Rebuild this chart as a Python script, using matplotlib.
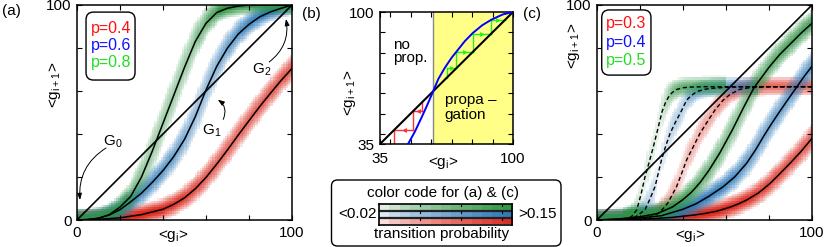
import numpy as np
import matplotlib
matplotlib.use('Agg')
import matplotlib.pyplot as plt
from matplotlib.colors import to_rgb
from matplotlib.patches import FancyBboxPatch
from matplotlib.transforms import IdentityTransform

plt.rcParams['font.family'] = ['Liberation Sans', 'DejaVu Sans']
plt.rcParams['font.size'] = 11
plt.rcParams['mathtext.fontset'] = 'custom'
plt.rcParams['mathtext.rm'] = 'Liberation Sans'
plt.rcParams['mathtext.it'] = 'Liberation Sans'
plt.rcParams['mathtext.default'] = 'regular'
plt.rcParams['axes.linewidth'] = 1.1

# text / line colours and heat map colours
TXT = {'red': '#ff1010', 'blue': '#1010ff', 'green': '#22dd22'}
HEAT = {'red': '#dc2a1e', 'blue': '#2a78b8', 'green': '#2e9444'}

# ---------------- panel (a): p = 0.4, 0.6, 0.8 ----------------
a_labels = ['p=0.4', 'p=0.6', 'p=0.8']
a_red_x = [0, 10, 20, 30, 40, 45, 50, 55, 60, 65, 70, 75, 80, 85, 90, 95, 100]
a_red_y = [0, 0.3, 1, 2.5, 5, 7.3, 10.3, 14.5, 19.8, 26, 32.6, 39.5, 46.2, 52.8, 59, 65, 70.5]
a_blue_x = [0, 5, 10, 15, 20, 25, 30, 35, 40, 45, 50, 55, 60, 65, 70, 75, 80, 85, 90, 95, 100]
a_blue_y = [0, 0.2, 0.8, 2.3, 4.8, 8.5, 12.5, 17.5, 23, 29.5, 37.5, 48, 60.5, 71.5, 80, 86.5, 91, 94.5, 96.8, 98.5, 100]
a_green_x = [0, 5, 10, 15, 20, 25, 30, 35, 40, 45, 50, 55, 60, 65, 70, 75, 80, 90, 100]
a_green_y = [0, 0.2, 0.8, 2.5, 6, 11, 20, 32, 45, 58, 71, 83, 91.5, 96.5, 98.5, 99.5, 100, 100, 100]

# ---------------- panel (b): map and cobweb ----------------
b_curve_x = [48.7, 52, 55.2, 58, 61, 63.5, 66.6, 70, 73.1, 76.5, 80.4, 85, 89.4, 95, 100]
b_curve_y = [35, 41, 47.8, 54, 61, 67, 72.4, 77.5, 81.4, 85.7, 89.7, 93.5, 96.2, 98.8, 100]
b_threshold = 61
b_green_steps = [67.7, 72.3, 80.4, 89.4, 95.9]
b_red_steps = [55.5, 51.2, 42, 30]

# ---------------- panel (c): p = 0.3, 0.4, 0.5 ----------------
c_labels = ['p=0.3', 'p=0.4', 'p=0.5']
c_red_x = [0, 20, 35, 45, 50, 55.7, 62, 66, 69.6, 75, 80.5, 85, 89.8, 95, 100]
c_red_y = [0, 0.3, 1.2, 2.3, 3.0, 4.1, 6, 7.6, 9.3, 12.5, 17, 21.5, 26.4, 32, 38]
c_blue_x = [0, 15, 30, 40, 46, 52, 58.7, 64, 69.6, 74, 77.4, 81, 85, 89, 93, 96.5, 100]
c_blue_y = [0, 0.5, 2, 5, 7.5, 11, 15.5, 20, 26.4, 33, 38.8, 44.5, 50.5, 56.3, 62, 67, 71.5]
c_green_x = [0, 10, 20, 28, 35, 40, 44, 48, 52, 57, 60, 63, 68, 73, 80, 85, 90, 95, 100]
c_green_y = [0, 0.5, 1.5, 3, 6, 9.5, 13, 17.5, 23, 31, 36.5, 42, 52, 61.5, 71, 77, 82, 87, 91.5]
# dashed branches
c_red_dx = [18, 24, 28.5, 31, 33, 37, 39.5, 41.7, 45, 47.9, 51.5, 54.9, 58.7, 62, 66.5, 70, 74, 80, 100]
c_red_dy = [0.3, 1, 3.1, 5.5, 8, 15.5, 22, 28, 34.5, 40.3, 46, 51.2, 55.8, 58.5, 60.8, 61.4, 61.7, 62, 62]
c_blue_dx = [14, 18, 22.3, 24.5, 27, 30, 32, 34, 36.5, 39.4, 41.7, 44, 46.4, 50, 54, 60, 70, 100]
c_blue_dy = [0.3, 1.5, 4.7, 9.5, 15.5, 28, 34.5, 40.3, 45.5, 51, 55.8, 58, 59.7, 60.8, 61.3, 61.7, 62, 62]
c_green_dx = [12, 16, 18.5, 20.5, 22.3, 24.3, 26.2, 28.2, 30.3, 32, 33.5, 35, 37, 40, 43, 50, 60, 100]
c_green_dy = [0.3, 1.5, 4.7, 12, 20, 27, 34, 42, 50.5, 55, 57.6, 59.3, 60.7, 61.5, 61.8, 62, 62, 62]
# how far right the cloud around each dashed branch is seen, and its weight
c_cloud_end = {'red': 100, 'blue': 75, 'green': 60}
c_cloud_w = {'red': 0.6, 'blue': 0.6, 'green': 0.65}

# colour scale of the transition probability
PMIN, PMAX = 0.02, 0.15
SIG0, SIGX = 2.5, 2.5


def shade(t):
    # opacity of the colour for a scaled probability t in [0, 1]
    return 0.05 + 0.95 * t ** 0.7


def heat(ax, branches, color):
    g = np.arange(0.5, 100, 1.0)
    gx, gy = np.meshgrid(g, g)
    dens = np.zeros_like(gx)
    for xs, ys, w, xend in branches:
        yc = np.interp(g, xs, ys)
        slope = np.gradient(yc, g)
        sig = np.sqrt(SIG0 ** 2 + (slope * SIGX) ** 2)
        ww = w * ((g >= xs[0]) & (g <= xend))
        dens += ww * np.exp(-0.5 * ((gy - yc) / sig) ** 2) / (np.sqrt(2 * np.pi) * sig)
    t = np.clip((dens - PMIN) / (PMAX - PMIN), 0, 1)
    rgba = np.zeros(gx.shape + (4,))
    rgba[..., :3] = to_rgb(color)
    rgba[..., 3] = np.where(dens >= PMIN, shade(t), 0)
    ax.imshow(rgba, extent=(0, 100, 0, 100), origin='lower', aspect='auto',
              interpolation='nearest', zorder=1)


def frame(ax, lo, hi, step, ylab_pos, xlab_pos, xpad=4.5, ypad=4):
    ax.set_xlim(lo, hi)
    ax.set_ylim(lo, hi)
    if lo % step:
        ticks = [lo] + list(range(lo + step - lo % step, hi, step)) + [hi]
    else:
        ticks = list(range(lo, hi + 1, step))
    labels = [str(lo)] + [''] * (len(ticks) - 2) + [str(hi)]
    ax.set_xticks(ticks, labels)
    ax.set_yticks(ticks, labels)
    ax.tick_params(direction='in', top=True, right=True, length=3.5, width=0.8, labelsize=11)
    ax.tick_params(axis='x', pad=xpad)
    ax.tick_params(axis='y', pad=ypad)
    ax.set_ylabel('<g$_{i+1}$>', fontsize=11)
    ax.yaxis.set_label_coords(*ylab_pos)
    ax.set_xlabel('<g$_i$>', fontsize=11)
    ax.xaxis.set_label_coords(*xlab_pos)


def legend_box(ax, x0, y0, x1, y1, labels, colors, tx, tys):
    box = FancyBboxPatch((x0, y0), x1 - x0, y1 - y0, boxstyle='round,pad=0,rounding_size=0.035',
                         transform=ax.transAxes, fc='white', ec='black', lw=1.0, zorder=5)
    ax.add_patch(box)
    for lab, col, ty in zip(labels, colors, tys):
        ax.text(tx, ty, lab, color=col, transform=ax.transAxes, fontsize=11.5,
                va='baseline', ha='left', zorder=6)


def cobweb(ax, seq, color):
    for k in range(len(seq) - 1):
        x0, x1 = seq[k], seq[k + 1]
        ax.plot([x0, x0], [x0, x1], color=color, lw=1.0, zorder=2)
        ax.plot([x0, x1], [x1, x1], color=color, lw=1.0, zorder=2)
        ax.plot((x0 + x1) / 2, x1, marker='>' if x1 > x0 else '<', ms=3.5,
                color=color, mec='none', zorder=2)


fig = plt.figure(figsize=(8.3, 2.47), dpi=100)
W, H = 830.0, 247.0

# ---------- (a) ----------
ax_a = fig.add_axes([77 / W, (H - 220) / H, 215 / W, 215 / H])
heat(ax_a, [(a_red_x, a_red_y, 1, 100)], HEAT['red'])
heat(ax_a, [(a_blue_x, a_blue_y, 1, 100)], HEAT['blue'])
heat(ax_a, [(a_green_x, a_green_y, 1, 100)], HEAT['green'])
ax_a.plot([0, 100], [0, 100], color='k', lw=1.2, zorder=3)
for xs, ys in [(a_red_x, a_red_y), (a_blue_x, a_blue_y), (a_green_x, a_green_y)]:
    ax_a.plot(xs, ys, color='k', lw=1.1, zorder=3)
frame(ax_a, 0, 100, 20, (-0.067, 0.63), (0.447, -0.037))
legend_box(ax_a, 0.042, 0.651, 0.27, 0.967, a_labels,
           [TXT['red'], TXT['blue'], TXT['green']], 0.064, [0.871, 0.791, 0.713])
arr = dict(arrowstyle='-|>,head_length=0.55,head_width=0.2', mutation_scale=7,
           color='k', lw=0.7, shrinkA=0, shrinkB=0)
ax_a.text(16.8, 36.3, 'G$_0$', ha='center', va='center')
ax_a.annotate('', xy=(1.4, 9.3), xytext=(13.5, 33.5),
              arrowprops=dict(connectionstyle='arc3,rad=0.3', **arr))
ax_a.text(62.8, 41.4, 'G$_1$', ha='center', va='center')
ax_a.annotate('', xy=(65.5, 56), xytext=(68, 46.8),
              arrowprops=dict(connectionstyle='arc3,rad=0.4', **arr))
ax_a.text(86, 69.8, 'G$_2$', ha='center', va='center')
ax_a.annotate('', xy=(97.2, 93.5), xytext=(89.4, 73.5),
              arrowprops=dict(connectionstyle='arc3,rad=0.3', **arr))

# ---------- (b) ----------
ax_b = fig.add_axes([380 / W, (H - 144) / H, 133 / W, 132 / H])
ax_b.axvspan(b_threshold, 100, color='#ffff88', zorder=0, lw=0)
ax_b.axvline(b_threshold, color='#888888', lw=1.0, zorder=1)
cobweb(ax_b, b_green_steps, '#22ee22')
cobweb(ax_b, b_red_steps, '#ff3030')
ax_b.plot([35, 100], [35, 100], color='k', lw=1.5, zorder=3)
ax_b.plot(b_curve_x, b_curve_y, color='#0000ff', lw=1.4, zorder=3)
frame(ax_b, 35, 100, 10, (-0.165, 0.386), (0.474, -0.083), xpad=5.5, ypad=4)
ax_b.text(41.4, 87, 'no\nprop.', ha='left', va='top', linespacing=0.9, fontsize=11)
ax_b.text(66.6, 60, 'propa \u2013\ngation', ha='left', va='top', linespacing=1.05, fontsize=11)

# ---------- (c) ----------
ax_c = fig.add_axes([597 / W, (H - 220) / H, 215 / W, 215 / H])
heat(ax_c, [(c_red_x, c_red_y, 1, 100),
            (c_red_dx, c_red_dy, c_cloud_w['red'], c_cloud_end['red'])], HEAT['red'])
heat(ax_c, [(c_blue_x, c_blue_y, 1, 100),
            (c_blue_dx, c_blue_dy, c_cloud_w['blue'], c_cloud_end['blue'])], HEAT['blue'])
heat(ax_c, [(c_green_x, c_green_y, 1, 100),
            (c_green_dx, c_green_dy, c_cloud_w['green'], c_cloud_end['green'])], HEAT['green'])
ax_c.plot([0, 100], [0, 100], color='k', lw=1.2, zorder=3)
for xs, ys in [(c_red_x, c_red_y), (c_blue_x, c_blue_y), (c_green_x, c_green_y)]:
    ax_c.plot(xs, ys, color='k', lw=1.1, zorder=3)
for xs, ys in [(c_red_dx, c_red_dy), (c_blue_dx, c_blue_dy), (c_green_dx, c_green_dy)]:
    ax_c.plot(xs, ys, color='k', lw=1.0, ls=(0, (3, 2)), zorder=3)
frame(ax_c, 0, 100, 20, (-0.071, 0.81), (0.433, -0.037))
legend_box(ax_c, 0.022, 0.674, 0.251, 0.977, c_labels,
           [TXT['red'], TXT['blue'], TXT['green']], 0.042, [0.892, 0.806, 0.721])

# ---------- colour code box ----------
box = FancyBboxPatch((331.5, 1), 229.5, 66, boxstyle='round,pad=0,rounding_size=6',
                     transform=IdentityTransform(), fc='white', ec='black', lw=1.0, zorder=-1)
fig.patches.append(box)
ax_cb = fig.add_axes([379 / W, (H - 224.5) / H, 133.3 / W, 20.5 / H])
ax_cb.set_zorder(2)
vals = PMIN + (np.arange(13) + 0.5) * 0.01
t = (vals - PMIN) / (PMAX - PMIN)
a = shade(t)
img = np.zeros((3, len(vals), 3))
for row, name in enumerate(['green', 'blue', 'red']):
    c = np.array(to_rgb(HEAT[name]))
    img[row] = 1 - a[:, None] * (1 - c[None, :])
ax_cb.imshow(img, extent=(PMIN, PMAX, 0, 3), aspect='auto', interpolation='nearest')
for yy in [1, 2]:
    ax_cb.axhline(yy, color='#222222', lw=1.6)
for v in [0.06, 0.10, 0.14]:
    for top in [3, 2, 1]:
        ax_cb.plot([v, v], [top - 0.3, top], color='k', lw=0.8)
ax_cb.set_xlim(PMIN, PMAX)
ax_cb.set_ylim(0, 3)
ax_cb.set_xticks([])
ax_cb.set_yticks([])
for s in ax_cb.spines.values():
    s.set_linewidth(1.2)

fig.text(443 / W, (H - 193) / H, 'color code for (a) & (c)', ha='center', va='center', fontsize=11)
fig.text(377 / W, (H - 214) / H, '<0.02', ha='right', va='center', fontsize=11)
fig.text(518 / W, (H - 214) / H, '>0.15', ha='left', va='center', fontsize=11)
fig.text(442 / W, (H - 234) / H, 'transition probability', ha='center', va='center', fontsize=11)

# panel letters
fig.text(2 / W, (H - 11) / H, '(a)', ha='left', va='center', fontsize=11)
fig.text(302 / W, (H - 14) / H, '(b)', ha='left', va='center', fontsize=11)
fig.text(523 / W, (H - 14) / H, '(c)', ha='left', va='center', fontsize=11)

fig.savefig('out.png', dpi=100)
